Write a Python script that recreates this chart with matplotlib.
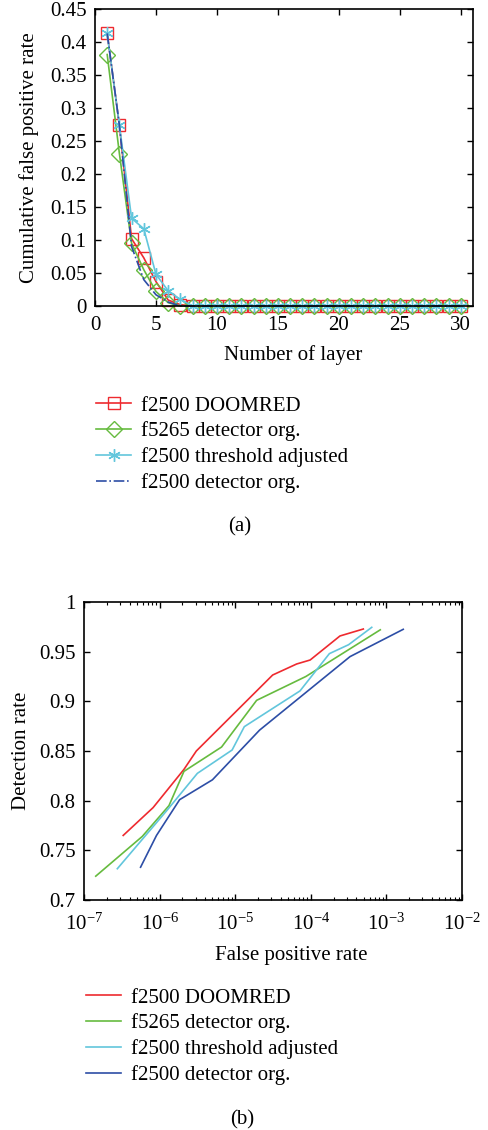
import numpy as np
from matplotlib import pyplot as plt

plt.rcParams['font.family'] = ['Liberation Serif', 'DejaVu Serif']
plt.rcParams['mathtext.fontset'] = 'stix'
plt.rcParams['font.size'] = 15

labels = ['f2500 DOOMRED', 'f5265 detector org.',
          'f2500 threshold adjusted', 'f2500 detector org.']
colors = ['#ee2a2f', '#66bb3f', '#62c6dc', '#2d4ea6']

# (a) cumulative false positive rate per layer
layers = list(range(1, 31))
z = [0.0] * 23   # layers 8..30 all read as zero
fp_doomred = [0.413, 0.274, 0.102, 0.073, 0.037, 0.009, 0.002] + z
fp_f5265 = [0.381, 0.231, 0.095, 0.055, 0.022, 0.005, 0.0] + z
fp_thresh = [0.413, 0.274, 0.133, 0.117, 0.048, 0.023, 0.010] + z
fp_f2500 = [0.413, 0.274, 0.090, 0.040, 0.017, 0.006, 0.0] + z

# (b) detection rate vs false positive rate
roc_doomred_x = [3.3e-7, 8.2e-7, 2.1e-6, 3.06e-6, 3.13e-5, 6.5e-5, 9.8e-5, 2.43e-4, 4.95e-4]
roc_doomred_y = [0.765, 0.793, 0.8315, 0.850, 0.9265, 0.9376, 0.9416, 0.9658, 0.9728]
roc_f5265_x = [1.43e-7, 5.9e-7, 1.33e-6, 2.1e-6, 6.6e-6, 1.92e-5, 8.6e-5, 8.3e-4]
roc_f5265_y = [0.724, 0.764, 0.795, 0.8295, 0.854, 0.901, 0.925, 0.972]
roc_thresh_x = [2.76e-7, 1.26e-6, 3.16e-6, 9.1e-6, 1.32e-5, 7.2e-5, 1.76e-4, 3.16e-4, 6.4e-4]
roc_thresh_y = [0.7315, 0.7905, 0.8275, 0.851, 0.8745, 0.9105, 0.948, 0.957, 0.9745]
roc_f2500_x = [5.6e-7, 9.1e-7, 1.84e-6, 5.0e-6, 2.1e-5, 3.3e-4, 1.67e-3]
roc_f2500_y = [0.733, 0.765, 0.801, 0.821, 0.871, 0.945, 0.9725]

fig = plt.figure(figsize=(4.89, 11.3), dpi=100)
W, H = 489, 1130

def style(ax, xpad=7):
    ax.tick_params(which='both', direction='in', top=True, right=True)
    ax.tick_params(which='major', length=4, width=1)
    ax.tick_params(which='minor', length=2.5, width=0.8)
    ax.tick_params(axis='x', pad=xpad)
    ax.tick_params(axis='y', pad=6)
    for s in ax.spines.values():
        s.set_linewidth(1.2)

# ---- top panel
ax1 = fig.add_axes([95 / W, 1 - 306 / H, 378 / W, 297 / H])
ax1.plot(layers, fp_doomred, color=colors[0], marker='s', mfc='none', ms=8,
         lw=1.2, clip_on=False, label=labels[0])
ax1.plot(layers, fp_f5265, color=colors[1], marker='D', mfc='none', ms=8.5,
         lw=1.2, clip_on=False, label=labels[1])
ax1.plot(layers, fp_thresh, color=colors[2], marker=(6, 2, 0), ms=9,
         lw=1.2, clip_on=False, label=labels[2])
ax1.plot(layers, fp_f2500, color=colors[3], ls='-.', lw=1.2,
         clip_on=False, label=labels[3])
ax1.set_xlim(0, 31)
ax1.set_ylim(0, 0.45)
ax1.set_xticks(np.arange(0, 31, 5))
ax1.set_yticks(np.arange(0, 0.46, 0.05))
ax1.set_yticklabels(['0', '0.05', '0.1', '0.15', '0.2', '0.25', '0.3', '0.35', '0.4', '0.45'])
style(ax1)
ax1.set_xlabel('Number of layer')
ax1.set_ylabel('Cumulative false positive rate')
ax1.xaxis.set_label_coords(0.524, -0.13)
ax1.yaxis.set_label_coords(-0.148, 0.5)

fig.legend(*ax1.get_legend_handles_labels(), loc='upper left',
           bbox_to_anchor=(96 / W, 1 - 396 / H), frameon=False,
           borderpad=0, borderaxespad=0, handlelength=1.7,
           handletextpad=0.45, labelspacing=0.28, fontsize=15)
fig.text(240 / W, 1 - 527 / H, '(a)', ha='center', va='center', fontsize=15)

# ---- bottom panel
ax2 = fig.add_axes([84 / W, 1 - 900 / H, 378 / W, 298 / H])
ax2.plot(roc_doomred_x, roc_doomred_y, color=colors[0], lw=1.2, label=labels[0])
ax2.plot(roc_f5265_x, roc_f5265_y, color=colors[1], lw=1.2, label=labels[1])
ax2.plot(roc_thresh_x, roc_thresh_y, color=colors[2], lw=1.2, label=labels[2])
ax2.plot(roc_f2500_x, roc_f2500_y, color=colors[3], lw=1.2, label=labels[3])
ax2.set_xscale('log')
ax2.set_xlim(1e-7, 1e-2)
ax2.set_ylim(0.7, 1.0)
ax2.set_yticks(np.arange(0.7, 1.001, 0.05))
ax2.set_yticklabels(['0.7', '0.75', '0.8', '0.85', '0.9', '0.95', '1'])
style(ax2, xpad=10)
ax2.set_xlabel('False positive rate')
ax2.set_ylabel('Detection rate')
ax2.xaxis.set_label_coords(0.549, -0.155)
ax2.yaxis.set_label_coords(-0.14, 0.5)

fig.legend(*ax2.get_legend_handles_labels(), loc='upper left',
           bbox_to_anchor=(86 / W, 1 - 988 / H), frameon=False,
           borderpad=0, borderaxespad=0, handlelength=1.7,
           handletextpad=0.45, labelspacing=0.28, fontsize=15)
fig.text(242 / W, 1 - 1120 / H, '(b)', ha='center', va='center', fontsize=15)

fig.savefig('out.png', dpi=100)
